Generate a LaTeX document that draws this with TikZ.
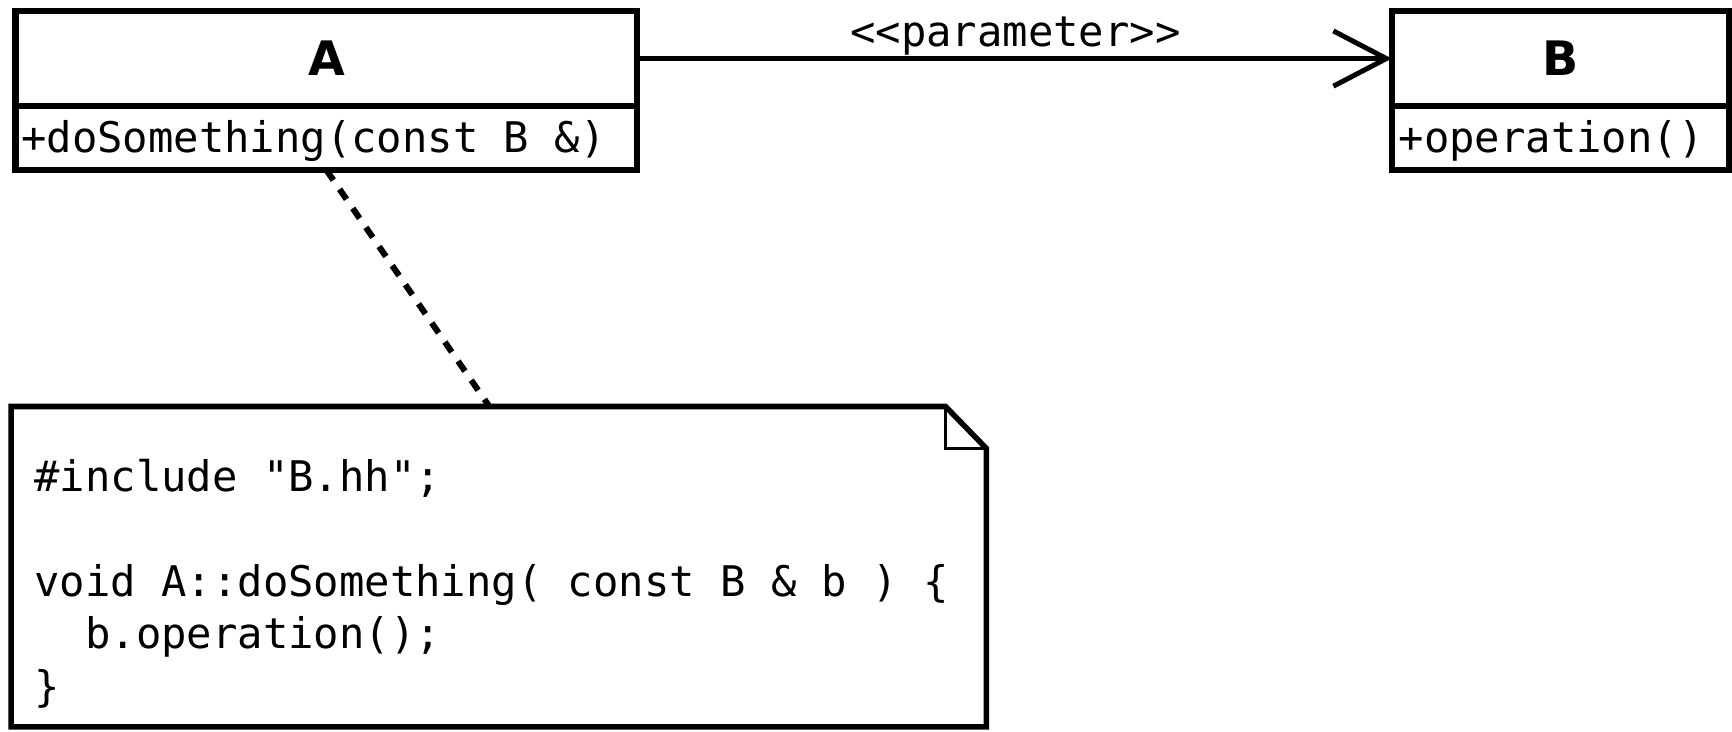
\documentclass[tikz,border=0pt]{standalone}
\usepackage{fontspec}
\setmainfont{DejaVu Sans}
\setmonofont{DejaVu Sans Mono}
\usetikzlibrary{arrows.meta,calc}
\begin{document}
\begin{tikzpicture}[x=1pt,y=-1pt,
  boxpart/.style={draw,line width=5.5pt,minimum width=563pt,inner sep=0pt,outer sep=0pt},
  title/.style={font=\fontsize{43}{43}\selectfont\bfseries,inner sep=0pt,anchor=base},
  code/.style={font=\fontsize{38.2}{47.5}\selectfont\ttfamily,inner sep=0pt,anchor=base west},
  assoc/.style={line width=4.5pt,-{Straight Barb[length=48pt,width=50pt,line width=4.5pt]}},
  notelink/.style={line width=5.5pt,dash pattern=on 11pt off 10pt}]
\useasboundingbox (0,0) rectangle (1568,661.8);
% class A
\node[boxpart,minimum width=563pt,minimum height=86pt] (At) at (295.5,53) {};
\node[boxpart,minimum width=563pt,minimum height=58pt] (Ao) at (295.5,125) {};
\node[title] (Aname) at (295.5,68.5) {A};
\node[code] (Aop) at (19,138) {+doSomething(const B \&)};
% class B
\node[boxpart,minimum width=305pt,minimum height=86pt] (Bt) at (1412.5,53) {};
\node[boxpart,minimum width=305pt,minimum height=58pt] (Bo) at (1412.5,125) {};
\node[title] (Bname) at (1412.5,68.5) {B};
\node[code] (Bop) at (1266,138) {+operation()};
% association
\draw[assoc] (At.east) -- (Bt.west)
  node[code,anchor=base,pos=0.501,yshift=11pt] (lab) {<{}<parameter>{}>};
% note
\node[minimum width=883pt,minimum height=290pt,inner sep=0pt,outer sep=0pt] (note) at (451.5,513) {};
\draw[line width=5pt,line join=miter]
  (note.north west) -- ([xshift=-37pt]note.north east) -- ([yshift=-38pt]note.north east)
  -- (note.south east) -- (note.south west) -- cycle;
\draw[line width=3pt]
  ([xshift=-37pt]note.north east) -- ([xshift=-37pt,yshift=-38pt]note.north east)
  -- ([yshift=-38pt]note.north east);
\node[code] (l1) at (31,445) {\#include "B.hh";};
\node[code] (l2) at (31,540) {void A::doSomething( const B \& b ) \{};
\node[code] (l3) at (31,587.5) {\phantom{xx}b.operation();};
\node[code] (l4) at (31,635) {\}};
\coordinate (nt) at (443,368);
\draw[notelink] (Ao.south) -- (nt);
\end{tikzpicture}
\end{document}
